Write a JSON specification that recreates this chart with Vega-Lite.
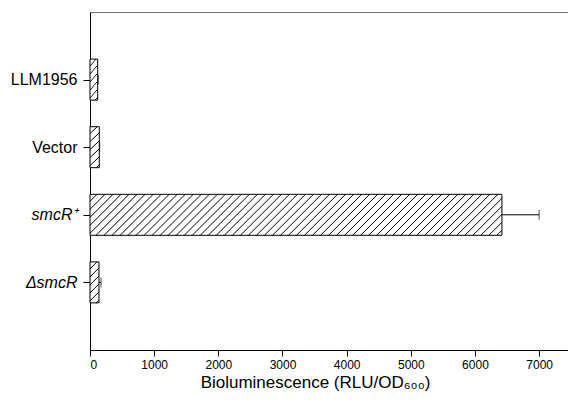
{
  "$schema": "https://vega.github.io/schema/vega-lite/v6.json",
  "width": 478,
  "height": 338,
  "autosize": "none",
  "padding": {"left": 90, "top": 12, "right": 0, "bottom": 64},
  "background": "white",
  "config": {
    "view": {"stroke": "#777", "strokeWidth": 1},
    "font": "Liberation Sans"
  },
  "data": {
    "values": [
      {"strain": "LLM1956", "value": 120, "upper": 128},
      {"strain": "Vector", "value": 145, "upper": 152},
      {"strain": "smcR⁺", "value": 6420, "upper": 7000},
      {"strain": "ΔsmcR", "value": 140, "upper": 172}
    ]
  },
  "encoding": {
    "y": {
      "field": "strain",
      "type": "nominal",
      "scale": {"type": "point", "padding": 1, "domain": ["LLM1956", "Vector", "smcR⁺", "ΔsmcR"]},
      "axis": {
        "title": null,
        "labelFontSize": 16,
        "labelColor": "#000",
        "tickSize": 7,
        "tickColor": "#000",
        "domainColor": "#000",
        "labelPadding": 6,
        "labelFontStyle": {"condition": {"test": "datum.value === 'smcR⁺' || datum.value === 'ΔsmcR'", "value": "italic"}, "value": "normal"}
      }
    }
  },
  "layer": [
    {
      "transform": [{"filter": "datum.strain === 'smcR⁺'"}],
      "mark": {
        "type": "bar",
        "size": 41,
        "stroke": "#000",
        "strokeWidth": 1,
        "fill": {
          "gradient": "linear",
          "x1": 0, "y1": 0, "x2": 1.2046, "y2": 0.12016,
          "stops": [
            {"offset": 0, "color": "#fff"},
            {"offset": 0.012, "color": "#fff"}, {"offset": 0.014, "color": "#000"}, {"offset": 0.016, "color": "#fff"},
            {"offset": 0.028, "color": "#fff"}, {"offset": 0.030, "color": "#000"}, {"offset": 0.032, "color": "#fff"},
            {"offset": 0.044, "color": "#fff"}, {"offset": 0.046, "color": "#000"}, {"offset": 0.048, "color": "#fff"},
            {"offset": 0.060, "color": "#fff"}, {"offset": 0.062, "color": "#000"}, {"offset": 0.064, "color": "#fff"},
            {"offset": 0.076, "color": "#fff"}, {"offset": 0.078, "color": "#000"}, {"offset": 0.080, "color": "#fff"},
            {"offset": 0.092, "color": "#fff"}, {"offset": 0.094, "color": "#000"}, {"offset": 0.096, "color": "#fff"},
            {"offset": 0.108, "color": "#fff"}, {"offset": 0.110, "color": "#000"}, {"offset": 0.112, "color": "#fff"},
            {"offset": 0.124, "color": "#fff"}, {"offset": 0.126, "color": "#000"}, {"offset": 0.128, "color": "#fff"},
            {"offset": 0.140, "color": "#fff"}, {"offset": 0.142, "color": "#000"}, {"offset": 0.144, "color": "#fff"},
            {"offset": 0.156, "color": "#fff"}, {"offset": 0.158, "color": "#000"}, {"offset": 0.160, "color": "#fff"},
            {"offset": 0.172, "color": "#fff"}, {"offset": 0.174, "color": "#000"}, {"offset": 0.176, "color": "#fff"},
            {"offset": 0.188, "color": "#fff"}, {"offset": 0.190, "color": "#000"}, {"offset": 0.192, "color": "#fff"},
            {"offset": 0.204, "color": "#fff"}, {"offset": 0.206, "color": "#000"}, {"offset": 0.208, "color": "#fff"},
            {"offset": 0.220, "color": "#fff"}, {"offset": 0.222, "color": "#000"}, {"offset": 0.224, "color": "#fff"},
            {"offset": 0.236, "color": "#fff"}, {"offset": 0.238, "color": "#000"}, {"offset": 0.240, "color": "#fff"},
            {"offset": 0.252, "color": "#fff"}, {"offset": 0.254, "color": "#000"}, {"offset": 0.256, "color": "#fff"},
            {"offset": 0.268, "color": "#fff"}, {"offset": 0.270, "color": "#000"}, {"offset": 0.272, "color": "#fff"},
            {"offset": 0.284, "color": "#fff"}, {"offset": 0.286, "color": "#000"}, {"offset": 0.288, "color": "#fff"},
            {"offset": 0.300, "color": "#fff"}, {"offset": 0.302, "color": "#000"}, {"offset": 0.304, "color": "#fff"},
            {"offset": 0.316, "color": "#fff"}, {"offset": 0.318, "color": "#000"}, {"offset": 0.320, "color": "#fff"},
            {"offset": 0.332, "color": "#fff"}, {"offset": 0.334, "color": "#000"}, {"offset": 0.336, "color": "#fff"},
            {"offset": 0.348, "color": "#fff"}, {"offset": 0.350, "color": "#000"}, {"offset": 0.352, "color": "#fff"},
            {"offset": 0.364, "color": "#fff"}, {"offset": 0.366, "color": "#000"}, {"offset": 0.368, "color": "#fff"},
            {"offset": 0.380, "color": "#fff"}, {"offset": 0.382, "color": "#000"}, {"offset": 0.384, "color": "#fff"},
            {"offset": 0.396, "color": "#fff"}, {"offset": 0.398, "color": "#000"}, {"offset": 0.400, "color": "#fff"},
            {"offset": 0.412, "color": "#fff"}, {"offset": 0.414, "color": "#000"}, {"offset": 0.416, "color": "#fff"},
            {"offset": 0.428, "color": "#fff"}, {"offset": 0.430, "color": "#000"}, {"offset": 0.432, "color": "#fff"},
            {"offset": 0.444, "color": "#fff"}, {"offset": 0.446, "color": "#000"}, {"offset": 0.448, "color": "#fff"},
            {"offset": 0.460, "color": "#fff"}, {"offset": 0.462, "color": "#000"}, {"offset": 0.464, "color": "#fff"},
            {"offset": 0.476, "color": "#fff"}, {"offset": 0.478, "color": "#000"}, {"offset": 0.480, "color": "#fff"},
            {"offset": 0.492, "color": "#fff"}, {"offset": 0.494, "color": "#000"}, {"offset": 0.496, "color": "#fff"},
            {"offset": 0.508, "color": "#fff"}, {"offset": 0.510, "color": "#000"}, {"offset": 0.512, "color": "#fff"},
            {"offset": 0.524, "color": "#fff"}, {"offset": 0.526, "color": "#000"}, {"offset": 0.528, "color": "#fff"},
            {"offset": 0.540, "color": "#fff"}, {"offset": 0.542, "color": "#000"}, {"offset": 0.544, "color": "#fff"},
            {"offset": 0.556, "color": "#fff"}, {"offset": 0.558, "color": "#000"}, {"offset": 0.560, "color": "#fff"},
            {"offset": 0.572, "color": "#fff"}, {"offset": 0.574, "color": "#000"}, {"offset": 0.576, "color": "#fff"},
            {"offset": 0.588, "color": "#fff"}, {"offset": 0.590, "color": "#000"}, {"offset": 0.592, "color": "#fff"},
            {"offset": 0.604, "color": "#fff"}, {"offset": 0.606, "color": "#000"}, {"offset": 0.608, "color": "#fff"},
            {"offset": 0.620, "color": "#fff"}, {"offset": 0.622, "color": "#000"}, {"offset": 0.624, "color": "#fff"},
            {"offset": 0.636, "color": "#fff"}, {"offset": 0.638, "color": "#000"}, {"offset": 0.640, "color": "#fff"},
            {"offset": 0.652, "color": "#fff"}, {"offset": 0.654, "color": "#000"}, {"offset": 0.656, "color": "#fff"},
            {"offset": 0.668, "color": "#fff"}, {"offset": 0.670, "color": "#000"}, {"offset": 0.672, "color": "#fff"},
            {"offset": 0.684, "color": "#fff"}, {"offset": 0.686, "color": "#000"}, {"offset": 0.688, "color": "#fff"},
            {"offset": 0.700, "color": "#fff"}, {"offset": 0.702, "color": "#000"}, {"offset": 0.704, "color": "#fff"},
            {"offset": 0.716, "color": "#fff"}, {"offset": 0.718, "color": "#000"}, {"offset": 0.720, "color": "#fff"},
            {"offset": 0.732, "color": "#fff"}, {"offset": 0.734, "color": "#000"}, {"offset": 0.736, "color": "#fff"},
            {"offset": 0.748, "color": "#fff"}, {"offset": 0.750, "color": "#000"}, {"offset": 0.752, "color": "#fff"},
            {"offset": 0.764, "color": "#fff"}, {"offset": 0.766, "color": "#000"}, {"offset": 0.768, "color": "#fff"},
            {"offset": 0.780, "color": "#fff"}, {"offset": 0.782, "color": "#000"}, {"offset": 0.784, "color": "#fff"},
            {"offset": 0.796, "color": "#fff"}, {"offset": 0.798, "color": "#000"}, {"offset": 0.800, "color": "#fff"},
            {"offset": 0.812, "color": "#fff"}, {"offset": 0.814, "color": "#000"}, {"offset": 0.816, "color": "#fff"},
            {"offset": 0.828, "color": "#fff"}, {"offset": 0.830, "color": "#000"}, {"offset": 0.832, "color": "#fff"},
            {"offset": 0.844, "color": "#fff"}, {"offset": 0.846, "color": "#000"}, {"offset": 0.848, "color": "#fff"},
            {"offset": 0.860, "color": "#fff"}, {"offset": 0.862, "color": "#000"}, {"offset": 0.864, "color": "#fff"},
            {"offset": 0.876, "color": "#fff"}, {"offset": 0.878, "color": "#000"}, {"offset": 0.880, "color": "#fff"},
            {"offset": 0.892, "color": "#fff"}, {"offset": 0.894, "color": "#000"}, {"offset": 0.896, "color": "#fff"},
            {"offset": 0.908, "color": "#fff"}, {"offset": 0.910, "color": "#000"}, {"offset": 0.912, "color": "#fff"},
            {"offset": 1, "color": "#fff"}
          ]
        }
      },
      "encoding": {
        "x": {
          "field": "value",
          "type": "quantitative",
          "scale": {"domain": [0, 7450], "nice": false},
          "axis": {
            "values": [0, 1000, 2000, 3000, 4000, 5000, 6000, 7000],
            "format": "d",
            "grid": false,
            "title": "Bioluminescence (RLU/OD₆₀₀)",
            "titleFontSize": 17,
            "titleFontWeight": "normal",
            "titleColor": "#000",
            "titlePadding": 4,
            "titleX": 225,
            "labelFontSize": 12,
            "labelColor": "#000",
            "labelPadding": 3,
            "tickSize": 6,
            "tickColor": "#000",
            "domainColor": "#000"
          }
        }
      }
    },
    {
      "transform": [{"filter": "datum.strain !== 'smcR⁺'"}],
      "mark": {
        "type": "bar",
        "size": 41,
        "stroke": "#000",
        "strokeWidth": 1,
        "fill": {
          "gradient": "linear",
          "x1": 0, "y1": 0, "x2": 0.2554, "y2": 1.1635,
          "stops": [
            {"offset": 0, "color": "#fff"},
            {"offset": 0.12, "color": "#fff"}, {"offset": 0.14, "color": "#000"}, {"offset": 0.16, "color": "#fff"},
            {"offset": 0.28, "color": "#fff"}, {"offset": 0.30, "color": "#000"}, {"offset": 0.32, "color": "#fff"},
            {"offset": 0.44, "color": "#fff"}, {"offset": 0.46, "color": "#000"}, {"offset": 0.48, "color": "#fff"},
            {"offset": 0.60, "color": "#fff"}, {"offset": 0.62, "color": "#000"}, {"offset": 0.64, "color": "#fff"},
            {"offset": 0.76, "color": "#fff"}, {"offset": 0.78, "color": "#000"}, {"offset": 0.80, "color": "#fff"},
            {"offset": 0.92, "color": "#fff"}, {"offset": 0.94, "color": "#000"}, {"offset": 0.96, "color": "#fff"},
            {"offset": 1, "color": "#fff"}
          ]
        }
      },
      "encoding": {
        "x": {"field": "value", "type": "quantitative"}
      }
    },
    {
      "mark": {"type": "rule", "color": "#000", "strokeWidth": 1},
      "encoding": {
        "x": {"field": "value", "type": "quantitative"},
        "x2": {"field": "upper"}
      }
    },
    {
      "mark": {"type": "tick", "color": "#000", "size": 10, "thickness": 1},
      "encoding": {
        "x": {"field": "upper", "type": "quantitative"}
      }
    }
  ]
}
